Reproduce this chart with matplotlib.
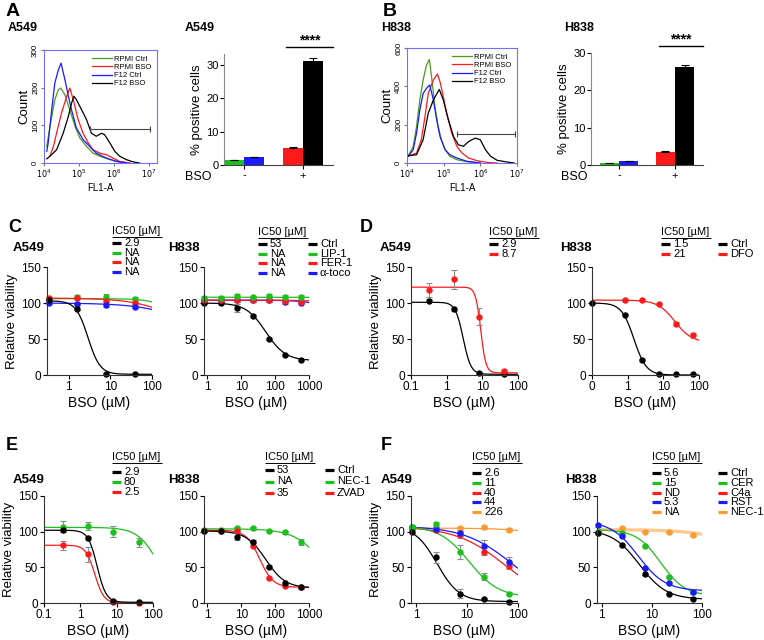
import numpy as np
import matplotlib
matplotlib.use('Agg')
import matplotlib.pyplot as plt
from matplotlib.lines import Line2D
from matplotlib.ticker import NullLocator

plt.rcParams['font.family'] = ['Liberation Sans', 'DejaVu Sans']

# ---------------- data ----------------
hist_labels = ['RPMI Ctrl', 'RPMI BSO', 'F12 Ctrl', 'F12 BSO']

# panel A histogram (log10 FL1-A, count)
a_green_x = [4.08, 4.17, 4.31, 4.41, 4.48, 4.60, 4.74, 4.89, 5.03, 5.22, 5.41, 5.60, 5.89, 6.17, 6.46]
a_green_y = [44, 97, 168, 194, 199, 181, 141, 97, 66, 44, 26, 18, 9, 3, 0]
a_red_x = [4.17, 4.27, 4.36, 4.50, 4.65, 4.74, 4.84, 4.98, 5.12, 5.27, 5.41, 5.60, 5.79, 5.98, 6.17, 6.46]
a_red_y = [18, 44, 79, 132, 177, 199, 168, 115, 79, 53, 35, 26, 22, 13, 4, 0]
a_blue_x = [4.08, 4.12, 4.22, 4.31, 4.41, 4.49, 4.60, 4.70, 4.79, 4.93, 5.12, 5.31, 5.50, 5.79, 6.08, 6.36]
a_blue_y = [31, 53, 141, 212, 247, 265, 221, 177, 141, 93, 62, 44, 26, 13, 4, 0]
a_black_x = [4.08, 4.17, 4.36, 4.55, 4.70, 4.79, 4.86, 4.93, 5.08, 5.22, 5.36, 5.50, 5.65, 5.74, 5.89, 6.03, 6.17, 6.36, 6.55, 6.74]
a_black_y = [11, 18, 35, 79, 124, 159, 177, 168, 141, 115, 79, 71, 79, 75, 53, 31, 18, 9, 3, 0]
a_gate = (5.31, 7.05, 91)

# panel B histogram
b_green_x = [4.03, 4.17, 4.26, 4.35, 4.44, 4.53, 4.61, 4.67, 4.76, 4.85, 4.94, 5.04, 5.17, 5.36, 5.63, 6.00]
b_green_y = [35, 87, 190, 329, 433, 510, 540, 450, 294, 190, 121, 69, 35, 17, 7, 0]
b_red_x = [4.03, 4.26, 4.39, 4.49, 4.58, 4.72, 4.83, 4.90, 4.99, 5.08, 5.22, 5.36, 5.50, 5.68, 5.91, 6.18, 6.46]
b_red_y = [35, 52, 121, 242, 363, 433, 464, 424, 346, 260, 156, 87, 52, 26, 12, 3, 0]
b_blue_x = [4.03, 4.17, 4.26, 4.35, 4.44, 4.53, 4.62, 4.72, 4.81, 4.90, 5.04, 5.17, 5.36, 5.63, 6.00]
b_blue_y = [35, 69, 156, 277, 363, 389, 407, 329, 225, 138, 69, 43, 26, 9, 0]
b_black_x = [4.03, 4.26, 4.44, 4.58, 4.72, 4.88, 4.99, 5.13, 5.27, 5.40, 5.54, 5.68, 5.86, 6.00, 6.14, 6.28, 6.46, 6.73, 6.92]
b_black_y = [38, 43, 121, 260, 329, 384, 329, 225, 138, 95, 87, 112, 130, 121, 69, 35, 14, 5, 0]
b_gate = (5.36, 6.95, 150)

# bar charts: % positive cells  [RPMI Ctrl, F12 Ctrl, RPMI BSO, F12 BSO]
a_bar_vals = [1.5, 2.3, 5.0, 31.3]
a_bar_err = [0.0, 0.0, 0.5, 0.9]
b_bar_vals = [0.5, 1.0, 3.5, 26.3]
b_bar_err = [0.0, 0.0, 0.2, 0.6]

# concentrations (uM)
conc_4 = [0.33, 1.6, 8, 40]
conc_7 = [0.82, 2.5, 7.4, 22, 67, 200, 600]
conc_5 = [0.82, 2.5, 7.4, 22, 67]
conc_d = [0.1, 0.82, 2.5, 7.4, 22, 67]

# fit params: (top, bottom, ec50, hill)
# C A549
c1_black = [104, 92, 2, 1];      c1_black_err = [2, 2, 1, 1];   c1_black_fit = (103, 1, 2.9, 3.0)
c1_green = [106, 108, 109, 106]; c1_green_err = [3, 3, 4, 3];   c1_green_fit = (106, 0, 800, 1.5)
c1_red = [107, 107, 103, 100];   c1_red_err = [2, 2, 2, 2];     c1_red_fit = (107, 0, 1450, 0.74)
c1_blue = [100, 99, 97, 95];     c1_blue_err = [2, 2, 2, 2];    c1_blue_fit = (100, 0, 3000, 0.68)
# C H838
c2_black = [100, 100, 93, 82, 50, 28, 21]; c2_black_err = [1, 2, 5, 2, 2, 1, 1]; c2_black_fit = (100, 20, 53, 1.5)
c2_green = [107, 107, 110, 108, 110, 109, 108]; c2_green_err = [3, 3, 3, 2, 3, 2, 3]; c2_green_fit = (108, 0, 1e6, 1.0)
c2_red = [104, 104, 104, 104, 104, 103, 102]; c2_red_err = [2, 2, 2, 2, 2, 2, 2]; c2_red_fit = (104, 0, 1e5, 1.0)
c2_blue = [104, 104, 104, 104, 104, 101, 100]; c2_blue_err = [2, 2, 2, 2, 2, 2, 2]; c2_blue_fit = (104, 0, 3e4, 1.0)
# D A549
d1_black = [103, 91, 3, 2];      d1_black_err = [2, 2, 1, 1];   d1_black_fit = (101, 1, 2.9, 4.0)
d1_red = [118, 133, 81, 5];      d1_red_err = [10, 13, 12, 2];  d1_red_fit = (122, 3, 9.0, 6.0)
# D H838
d2_black = [100, 84, 21, 2, 1, 1]; d2_black_err = [1, 1, 1, 1, 1, 1]; d2_black_fit = (100, 0, 1.5, 2.5)
d2_red = [104, 104, 99, 71, 55];   d2_red_err = [1, 1, 1, 2, 3];      d2_red_fit = (104, 45, 21, 1.8)
# E A549
e1_black = [103, 91, 3, 2];      e1_black_err = [3, 2, 1, 1];   e1_black_fit = (102, 1, 2.9, 3.5)
e1_green = [107, 108, 100, 85];  e1_green_err = [8, 6, 8, 6];   e1_green_fit = (106, 0, 150, 1.5)
e1_red = [81, 68, 1, 0];         e1_red_err = [6, 10, 1, 1];    e1_red_fit = (81, 0, 2.5, 3.5)
# E H838
e2_black = [101, 101, 93, 86, 51, 28, 22]; e2_black_err = [1, 2, 5, 2, 2, 2, 2]; e2_black_fit = (101, 21, 53, 1.5)
e2_green = [103, 103, 105, 105, 101, 99, 86]; e2_green_err = [2, 2, 2, 2, 2, 2, 4]; e2_green_fit = (104, 0, 3000, 1.0)
e2_red = [101, 101, 101, 80, 35, 24, 22]; e2_red_err = [1, 1, 1, 2, 2, 2, 2]; e2_red_fit = (102, 22, 35, 2.2)
# F A549
f1_black = [100, 64, 13, 6, 1];     f1_black_err = [2, 8, 6, 1, 1];  f1_black_fit = (108, 2, 2.6, 2.0)
f1_green = [106, 111, 71, 37, 13];  f1_green_err = [2, 3, 10, 5, 2]; f1_green_fit = (108, 8, 11, 1.5)
f1_red = [105, 102, 95, 72, 52];    f1_red_err = [2, 2, 4, 5, 5];    f1_red_fit = (107, 0, 55, 0.9)
f1_blue = [107, 104, 98, 80, 57];   f1_blue_err = [2, 2, 3, 8, 8];   f1_blue_fit = (108, 0, 80, 0.9)
f1_orange = [104, 105, 105, 106, 103]; f1_orange_err = [2, 2, 2, 2, 2]; f1_orange_fit = (105, 0, 3000, 1.0)
# F H838
f2_black = [98, 81, 40, 13, 6];     f2_black_err = [1, 1, 1, 1, 1];  f2_black_fit = (103, 5, 5.6, 1.6)
f2_green = [100, 98, 80, 37, 15];   f2_green_err = [1, 1, 1, 1, 2];  f2_green_fit = (103, 10, 15, 1.8)
f2_blue = [109, 94, 49, 28, 16];    f2_blue_err = [2, 1, 1, 1, 2];   f2_blue_fit = (115, 17, 5.3, 1.6)
f2_orange = [98, 105, 100, 99, 95]; f2_orange_err = [1, 1, 1, 1, 1]; f2_orange_fit = (103, 0, 3000, 0.8)

# ---------------- style ----------------
BLACK = 'black'
GREEN = '#1cc01c'
HGREEN = '#4c9c1c'
RED = '#ff1a1a'
BLUE = '#1a1aff'
ORANGE = '#ff9a30'
ERR = '#8c8c8c'

W, H = 764, 640
fig = plt.figure(figsize=(W / 100, H / 100), dpi=100)


def box(l, t, r, b):
    return fig.add_axes([l / W, 1 - b / H, (r - l) / W, (b - t) / H])


def ftext(x, y, s, **kw):
    kw.setdefault('va', 'center')
    fig.text(x / W, 1 - y / H, s, **kw)


def fline(x0, x1, y, color='black', lw=0.8):
    fig.add_artist(Line2D([x0 / W, x1 / W], [1 - y / H, 1 - y / H], color=color, lw=lw,
                          solid_capstyle='butt'))


def hill(x, top, bottom, ec50, h):
    return bottom + (top - bottom) / (1 + (x / ec50) ** h)


def hist_panel(ax, series, gate, ymax, yticks, xmax):
    for xs, ys, c, lab in series:
        ax.plot(10 ** np.array(xs), ys, color=c, lw=0.9, label=lab)
    ax.plot([10 ** gate[0], 10 ** gate[1]], [gate[2], gate[2]], color='#444444', lw=0.8,
            marker='|', ms=5, mew=0.8)
    ax.set_xscale('log')
    ax.set_xlim(1e4, 10 ** xmax)
    ax.set_ylim(0, ymax)
    ax.set_xticks([1e4, 1e5, 1e6, 1e7])
    ax.set_xticklabels(['$10^4$', '$10^5$', '$10^6$', '$10^7$'])
    ax.xaxis.set_minor_locator(NullLocator())
    ax.set_yticks(yticks)
    ax.tick_params(labelsize=5.8, length=2, color='#777777', pad=1.5)
    ax.tick_params(axis='y', labelrotation=90)
    for lab in ax.get_yticklabels():
        lab.set_va('center')
    for s in ax.spines.values():
        s.set_color('#7070ff')
        s.set_linewidth(0.8)
    ax.set_ylabel('Count', fontsize=9.5, labelpad=1)
    ax.set_xlabel('FL1-A', fontsize=7, labelpad=2)
    ax.legend(loc='upper right', fontsize=5.5, frameon=False, handlelength=2.6,
              labelspacing=0.12, borderaxespad=0.3, handletextpad=0.3)


def bar_panel(ax, vals, err, ymax, xlim):
    pos = [-0.17, 0.17, 0.83, 1.17]
    cols = [GREEN, BLUE, RED, BLACK]
    ax.bar(pos, vals, width=0.34, color=cols)
    ax.errorbar(pos, vals, yerr=[[0] * 4, err], fmt='none', ecolor='black', elinewidth=0.8,
                capsize=3, capthick=0.8)
    ax.set_xlim(*xlim)
    ax.set_ylim(0, ymax)
    ax.set_yticks([0, 10, 20, 30])
    ax.set_xticks([0, 1])
    ax.set_xticklabels(['-', '+'], fontsize=9)
    ax.tick_params(labelsize=8, length=3, width=0.8, pad=1)
    for s in ['top', 'right']:
        ax.spines[s].set_visible(False)
    ax.spines['left'].set_color('#888888')
    ax.spines['bottom'].set_color('#444444')
    ax.set_ylabel('% positive cells', fontsize=9.5, labelpad=2)
    ax.plot([0.72, xlim[1]], [ymax * 1.065, ymax * 1.065], color='black', lw=1, clip_on=False)
    ax.text((0.72 + xlim[1]) / 2, ymax * 1.12, '****', ha='center', va='center',
            fontsize=10, fontweight='bold', clip_on=False)


def dose_panel(ax, xlim, xticks, xticklabels, series, ylabel=False):
    xs = np.logspace(np.log10(xlim[0]), np.log10(xlim[1]), 300)
    for conc, vals, errs, fit, color in series:
        if color == ORANGE and len(conc) == 5 and fit[0] == 103:
            ax.plot(xs, hill(xs, *fit), color='#ffc890', lw=2.4, zorder=1)
        else:
            ax.plot(xs, hill(xs, *fit), color=color, lw=0.9)
        ax.errorbar(conc, vals, yerr=errs, fmt='o', color=color, ms=3.6, ecolor=ERR,
                    elinewidth=0.8, capsize=2, capthick=0.8, clip_on=False)
    ax.set_xscale('log')
    ax.set_xlim(*xlim)
    ax.set_ylim(0, 150)
    ax.set_yticks([0, 50, 100, 150])
    ax.set_xticks(xticks)
    ax.set_xticklabels(xticklabels)
    ax.xaxis.set_minor_locator(NullLocator())
    ax.tick_params(labelsize=8.5, length=3, width=0.8, pad=1.5)
    for s in ['top', 'right']:
        ax.spines[s].set_visible(False)
    for s in ['left', 'bottom']:
        ax.spines[s].set_linewidth(0.8)
        ax.spines[s].set_color('#333333')
    ax.set_xlabel('BSO (\u00b5M)', fontsize=10, labelpad=2)
    if ylabel:
        ax.set_ylabel('Relative viability', fontsize=9.5, labelpad=2)


def ic50_legend(x, y, values, colors, off, dy, x2=None, names=None):
    ftext(x, y, 'IC50 [\u00b5M]', fontsize=8, ha='left')
    fline(x, x + 50, y + 5.5, lw=0.7)
    for i, (v, c) in enumerate(zip(values, colors)):
        yy = y + off + i * dy
        fline(x, x + 9, yy, color=c, lw=2.3)
        ftext(x + 12, yy, v, fontsize=8, ha='left')
        if names is not None:
            fline(x2, x2 + 9, yy, color=c, lw=2.3)
            ftext(x2 + 12, yy, names[i], fontsize=8, ha='left')


# ---------------- row 1: A and B ----------------
ftext(6, 12, 'A', fontsize=14, fontweight='bold', ha='left')
ftext(383, 12, 'B', fontsize=14, fontweight='bold', ha='left')
ftext(8, 28, 'A549', fontsize=9, fontweight='bold', ha='left')
ftext(185, 28, 'A549', fontsize=9, fontweight='bold', ha='left')
ftext(381, 28, 'H838', fontsize=9, fontweight='bold', ha='left')
ftext(564, 28, 'H838', fontsize=9, fontweight='bold', ha='left')

ax = box(44, 50, 157, 163)
hist_panel(ax, [(a_green_x, a_green_y, HGREEN, hist_labels[0]),
                (a_red_x, a_red_y, RED, hist_labels[1]),
                (a_blue_x, a_blue_y, BLUE, hist_labels[2]),
                (a_black_x, a_black_y, BLACK, hist_labels[3])],
           a_gate, 300, [0, 100, 200, 300], 7.24)

ax = box(407, 48, 517, 163)
hist_panel(ax, [(b_green_x, b_green_y, HGREEN, hist_labels[0]),
                (b_red_x, b_red_y, RED, hist_labels[1]),
                (b_blue_x, b_blue_y, BLUE, hist_labels[2]),
                (b_black_x, b_black_y, BLACK, hist_labels[3])],
           b_gate, 600, [0, 200, 400, 600], 7.0)

ax = box(224, 54, 333, 165)
bar_panel(ax, a_bar_vals, a_bar_err, 33.3, (-0.34, 1.51))
ftext(212, 177, 'BSO', fontsize=9, ha='right')

ax = box(591, 53, 703, 165)
bar_panel(ax, b_bar_vals, b_bar_err, 30.0, (-0.5, 1.5))
ftext(588, 177, 'BSO', fontsize=9, ha='right')

# ---------------- row 2: C and D ----------------
ftext(8, 227, 'C', fontsize=13, fontweight='bold', ha='left')
ftext(360, 228, 'D', fontsize=13, fontweight='bold', ha='left')
ftext(13, 248, 'A549', fontsize=9.5, fontweight='bold', ha='left')
ftext(168, 248, 'H838', fontsize=9.5, fontweight='bold', ha='left')
ftext(380, 248, 'A549', fontsize=9.5, fontweight='bold', ha='left')
ftext(560, 248, 'H838', fontsize=9.5, fontweight='bold', ha='left')

ax = box(47, 267, 152, 375)
dose_panel(ax, (0.3, 100), [1, 10, 100], ['1', '10', '100'],
           [(conc_4, c1_green, c1_green_err, c1_green_fit, GREEN),
            (conc_4, c1_red, c1_red_err, c1_red_fit, RED),
            (conc_4, c1_blue, c1_blue_err, c1_blue_fit, BLUE),
            (conc_4, c1_black, c1_black_err, c1_black_fit, BLACK)], ylabel=True)
ic50_legend(112, 231, ['2.9', 'NA', 'NA', 'NA'], [BLACK, GREEN, RED, BLUE], 12, 9.7)

ax = box(204, 267, 309, 375)
dose_panel(ax, (0.8, 1000), [1, 10, 100, 1000], ['1', '10', '100', '1000'],
           [(conc_7, c2_black, c2_black_err, c2_black_fit, BLACK),
            (conc_7, c2_blue, c2_blue_err, c2_blue_fit, BLUE),
            (conc_7, c2_red, c2_red_err, c2_red_fit, RED),
            (conc_7, c2_green, c2_green_err, c2_green_fit, GREEN)])
ic50_legend(258, 232, ['53', 'NA', 'NA', 'NA'], [BLACK, GREEN, RED, BLUE], 12, 9.7,
            x2=308, names=['Ctrl', 'LIP-1', 'FER-1', '\u03b1-toco'])

ax = box(411, 267, 518, 375)
dose_panel(ax, (0.1, 100), [0.1, 1, 10, 100], ['0.1', '1', '10', '100'],
           [(conc_4, d1_black, d1_black_err, d1_black_fit, BLACK),
            (conc_4, d1_red, d1_red_err, d1_red_fit, RED)], ylabel=True)
ic50_legend(489, 232, ['2.9', '8.7'], [BLACK, RED], 12, 9.7)

ax = box(592, 267, 699, 375)
dose_panel(ax, (0.1, 100), [0.1, 1, 10, 100], ['0', '1', '10', '100'],
           [(conc_d, d2_black, d2_black_err, d2_black_fit, BLACK),
            (conc_5, d2_red, d2_red_err, d2_red_fit, RED)])
ic50_legend(661, 232, ['1.5', '21'], [BLACK, RED], 12, 9.7, x2=718, names=['Ctrl', 'DFO'])

# ---------------- row 3: E and F ----------------
ftext(6, 446, 'E', fontsize=13, fontweight='bold', ha='left')
ftext(381, 446, 'F', fontsize=13, fontweight='bold', ha='left')
ftext(13, 480, 'A549', fontsize=9.5, fontweight='bold', ha='left')
ftext(168, 480, 'H838', fontsize=9.5, fontweight='bold', ha='left')
ftext(381, 480, 'A549', fontsize=9.5, fontweight='bold', ha='left')
ftext(565, 480, 'H838', fontsize=9.5, fontweight='bold', ha='left')

ax = box(44, 496, 153, 603)
dose_panel(ax, (0.1, 100), [0.1, 1, 10, 100], ['0.1', '1', '10', '100'],
           [(conc_4, e1_green, e1_green_err, e1_green_fit, GREEN),
            (conc_4, e1_red, e1_red_err, e1_red_fit, RED),
            (conc_4, e1_black, e1_black_err, e1_black_fit, BLACK)], ylabel=True)
ic50_legend(112, 457, ['2.9', '80', '2.5'], [BLACK, GREEN, RED], 15, 10)

ax = box(204, 496, 309, 603)
dose_panel(ax, (0.8, 1000), [1, 10, 100, 1000], ['1', '10', '100', '1000'],
           [(conc_7, e2_green, e2_green_err, e2_green_fit, GREEN),
            (conc_7, e2_red, e2_red_err, e2_red_fit, RED),
            (conc_7, e2_black, e2_black_err, e2_black_fit, BLACK)])
ic50_legend(265, 457, ['53', 'NA', '35'], [BLACK, GREEN, RED], 13, 11.5,
            x2=325, names=['Ctrl', 'NEC-1', 'ZVAD'])

ax = box(411, 496, 518, 603)
dose_panel(ax, (0.8, 100), [1, 10, 100], ['1', '10', '100'],
           [(conc_5, f1_orange, f1_orange_err, f1_orange_fit, ORANGE),
            (conc_5, f1_red, f1_red_err, f1_red_fit, RED),
            (conc_5, f1_blue, f1_blue_err, f1_blue_fit, BLUE),
            (conc_5, f1_green, f1_green_err, f1_green_fit, GREEN),
            (conc_5, f1_black, f1_black_err, f1_black_fit, BLACK)], ylabel=True)
ic50_legend(472, 457, ['2.6', '11', '40', '44', '226'], [BLACK, GREEN, RED, BLUE, ORANGE], 16, 9.8)

ax = box(597, 496, 702, 603)
dose_panel(ax, (0.8, 100), [1, 10, 100], ['1', '10', '100'],
           [(conc_5, f2_orange, f2_orange_err, f2_orange_fit, ORANGE),
            (conc_5, f2_green, f2_green_err, f2_green_fit, GREEN),
            (conc_5, f2_blue, f2_blue_err, f2_blue_fit, BLUE),
            (conc_5, f2_black, f2_black_err, f2_black_fit, BLACK)])
ic50_legend(652, 457, ['5.6', '15', 'ND', '5.3', 'NA'], [BLACK, GREEN, RED, BLUE, ORANGE], 16, 9.8,
            x2=718, names=['Ctrl', 'CER', 'C4a', 'RST', 'NEC-1'])

fig.savefig('out.png', dpi=100)
